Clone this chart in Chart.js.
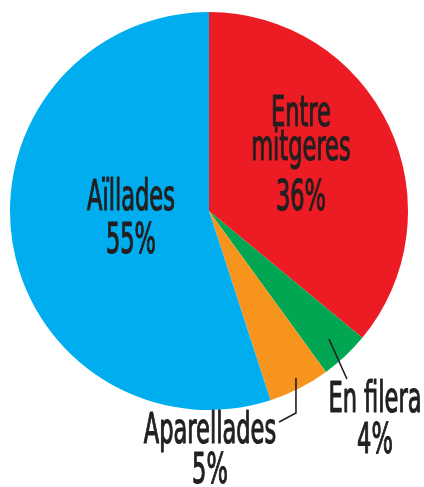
<!DOCTYPE html>
<html>
<head>
<meta charset="utf-8">
<script src="https://cdn.jsdelivr.net/npm/chart.js@4.4.1/dist/chart.umd.min.js"></script>
<style>
  html, body { margin: 0; padding: 0; background: #fff; }
  #wrap { width: 424px; height: 487px; }
</style>
</head>
<body>
<div id="wrap"><canvas id="housingPie" width="424" height="487"></canvas></div>
<script>
// Slices, clockwise from 12 o'clock
const categories = ["Entre mitgeres", "En filera", "Aparellades", "Aïllades"];
const labelLines = [["Entre", "mitgeres"], ["En filera"], ["Aparellades"], ["Aïllades"]];
const shares = [36, 4, 5, 55];
const sliceColors = ["#ED1C24", "#00A651", "#F7941D", "#00AEEF"];

const TEXT_COLOR = "#231F20";
const FONT_FAMILY = '"Liberation Sans Narrow", "DejaVu Sans Condensed", "Liberation Sans", sans-serif';

// Label placement in units of the pie radius, relative to the centre.
// x = centre of text, ys = baselines of each line (name lines then the %)
const labelLayout = [
  { x: 0.462, ys: [-0.427, -0.256, -0.005] },
  { x: 0.834, ys: [1.010, 1.216], leader: [[0.603, 0.643], [0.693, 0.844]] },
  { x: 0.005, ys: [1.166, 1.367], leader: [[0.437, 0.839], [0.437, 1.015], [0.352, 1.060]] },
  { x: -0.392, ys: [-0.005, 0.211] },
];

/**
 * Draws the slice names, percentages and leader lines
 */
const pieLabels = {
  id: "pieLabels",
  afterDatasetsDraw(chart) {
    const arc = chart.getDatasetMeta(0).data[0];
    if (!arc) return;
    const cx = arc.x;
    const cy = arc.y;
    const r = arc.outerRadius;
    const ctx = chart.ctx;

    ctx.save();
    const fontSize = Math.round(r * 0.21);
    ctx.font = `${fontSize}px ${FONT_FAMILY}`;
    // squeeze glyphs to get a condensed look
    const sx = (r * 0.442) / ctx.measureText("Aïllades").width;

    // leader lines
    ctx.strokeStyle = TEXT_COLOR;
    ctx.lineWidth = 1.6;
    labelLayout.forEach((lay) => {
      if (!lay.leader) return;
      ctx.beginPath();
      lay.leader.forEach(([px, py], i) => {
        const x = cx + px * r;
        const y = cy + py * r;
        if (i === 0) ctx.moveTo(x, y);
        else ctx.lineTo(x, y);
      });
      ctx.stroke();
    });

    // texts (a thin stroke gives a medium weight)
    ctx.fillStyle = TEXT_COLOR;
    ctx.lineWidth = 1.2;
    ctx.lineJoin = "round";
    ctx.textAlign = "center";
    ctx.textBaseline = "alphabetic";
    labelLayout.forEach((lay, i) => {
      const lines = [...labelLines[i], `${shares[i]}%`];
      lines.forEach((text, j) => {
        ctx.save();
        ctx.translate(cx + lay.x * r, cy + lay.ys[j] * r);
        ctx.scale(sx, 1);
        ctx.fillText(text, 0, 0);
        ctx.strokeText(text, 0, 0);
        ctx.restore();
      });
    });
    ctx.restore();
  },
};

new Chart(document.getElementById("housingPie"), {
  type: "pie",
  data: {
    labels: categories,
    datasets: [
      {
        data: shares,
        backgroundColor: sliceColors,
        borderWidth: 0,
        hoverOffset: 0,
      },
    ],
  },
  options: {
    responsive: false,
    animation: false,
    events: [],
    layout: {
      padding: { left: 10, right: 16, top: 12, bottom: 77 },
    },
    plugins: {
      legend: { display: false },
      tooltip: { enabled: false },
    },
  },
  plugins: [pieLabels],
});
</script>
</body>
</html>
